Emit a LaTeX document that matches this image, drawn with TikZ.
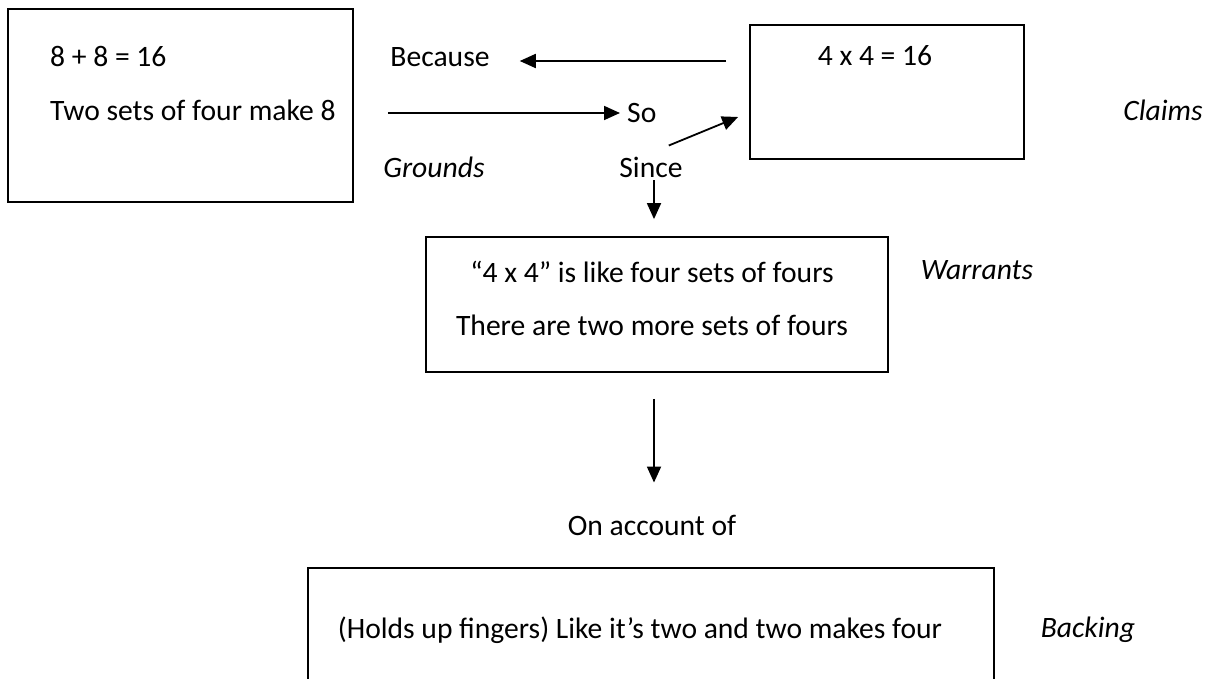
\documentclass[tikz,border=0pt]{standalone}
\usepackage{fontspec}
\setmainfont{Carlito}
\usetikzlibrary{arrows.meta,calc}

\begin{document}
\begin{tikzpicture}
% Argument layout, coordinates in pixels of the page
\providecommand{\argLineWidth}{1.8pt}
\providecommand{\argTextFont}{\fontsize{29.6}{35}\selectfont}
\useasboundingbox (0,0) rectangle (1207pt,-679pt);
\begin{scope}[x=1pt, y=-1pt, line cap=butt, line join=miter,
  argbox/.style 2 args={draw, line width=\argLineWidth, minimum width=#1pt, minimum height=#2pt, inner sep=0pt},
  txt/.style={font=\argTextFont, inner sep=0pt},
  tag/.style={font=\argTextFont\itshape, inner sep=0pt},
  arr/.style={-{Triangle[length=16pt,width=14pt]}, line width=\argLineWidth}]
  % Boxes
  \node[argbox={345}{193}] (groundbox) at (180.5,105.5) {};
  \node[argbox={274}{134}] (claimbox) at (887,92) {};
  \node[argbox={462}{135}] (warrantbox) at (657,304.5) {};
  \node[argbox={686}{150}] (backingbox) at (651,643) {};
  % Texts in the boxes
  \node[txt, anchor=west] (ground1) at (50,57) {8 + 8 = 16};
  \node[txt, anchor=west] (ground2) at (50,110) {Two sets of four make 8};
  \node[txt] (claim1) at (875,56) {4 x 4 = 16};
  \node[txt] (warrant1) at (652,272) {“4 x 4” is like four sets of fours};
  \node[txt] (warrant2) at (652,325) {There are two more sets of fours};
  \node[txt] (backing1) at (640,630) {(Holds up fingers) Like it’s two and two makes four};
  % Link words
  \node[txt] (because) at (440,57) {Because};
  \node[txt, anchor=west] (so) at (627,113) {So};
  \node[txt] (since) at (651,167) {Since};
  \node[txt] (account) at (652,525) {On account of};
  % Side labels
  \node[tag] (grounds) at (434,167) {Grounds};
  \node[tag] (claims) at (1163,110) {Claims};
  \node[tag] (warrants) at (977,270) {Warrants};
  \node[tag] (backing) at (1088,630) {Backing};
  % Arrows
  \draw[arr] ($(claimbox.west |- because)+(-23,4)$) -- ($(because.east)+(30,4)$);
  \draw[arr] ($(groundbox.east |- so)+(34,0)$) -- ($(so.west)+(-7,0)$);
  \draw[arr] ($(since.north east)+(-14,-11)$) -- ($(claimbox.west)+(-11,25)$);
  \draw[arr] ($(since.south)+(3,3)$) -- ($(since.south |- warrantbox.north)+(3,-17)$);
  \draw[arr] ($(warrantbox.south -| account)+(2,26)$) -- ($(account.north)+(2,-32)$);
\end{scope}
\end{tikzpicture}
\end{document}
